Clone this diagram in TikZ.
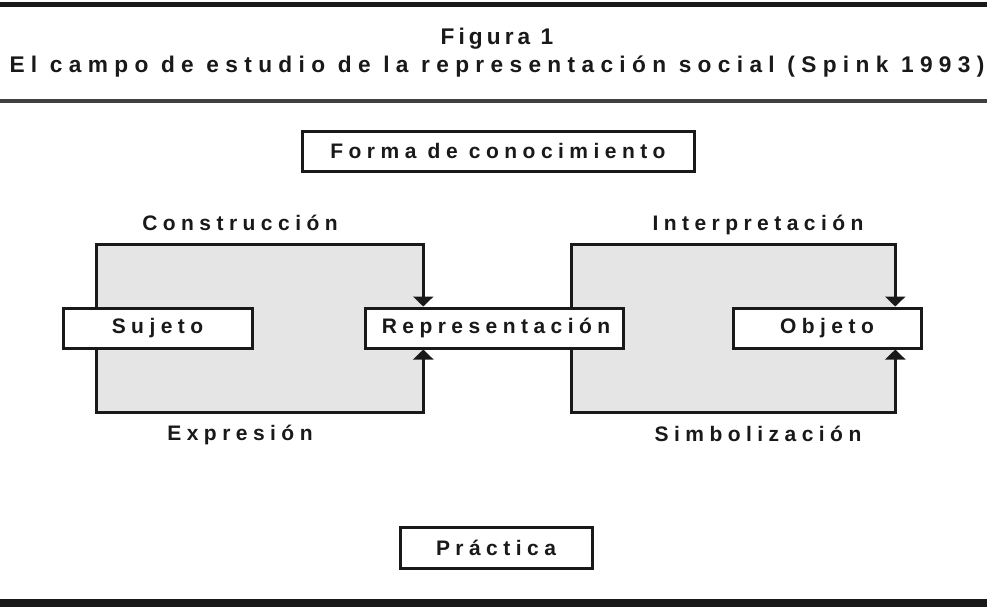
\documentclass[tikz,border=0pt]{standalone}
\usepackage{fontspec}
\setmainfont{Liberation Sans}[LetterSpace=26]
\newfontfamily\titlefont{Liberation Sans}[LetterSpace=28]
\newfontfamily\figfont{Liberation Sans}[LetterSpace=18]
\usetikzlibrary{arrows.meta,backgrounds}
\pgfdeclarelayer{paper}
\pgfsetlayers{paper,background,main}
\definecolor{panel}{RGB}{229,229,229}
\definecolor{ink}{RGB}{25,25,25}
\begin{document}
\begin{tikzpicture}[x=0.75pt,y=-0.75pt,
  txt/.style={font=\fontsize{15.75}{18}\selectfont\bfseries, text=ink, inner sep=0pt},
  lbl/.style={txt, anchor=base},
  ttl/.style={anchor=base, text=ink, inner sep=0pt},
  boxn/.style={txt, draw=ink, fill=white, line width=2.25pt, minimum height=30pt},
  panelbox/.style={fill=panel, draw=none, inner sep=0pt, minimum height=125.25pt},
  frame/.style={draw=ink, line width=2.25pt, line join=miter},
  tiptri/.style={{Triangle[width=15pt,length=7.5pt]}-{Triangle[width=15pt,length=7.5pt]}},
  rule/.style={draw=ink}
]
\useasboundingbox (0,0) rectangle (987,607);
\begin{pgfonlayer}{paper}
\fill[white] (0,0) rectangle (987,607);
\end{pgfonlayer}

% rules
\coordinate (t1) at (0,4.5);   \coordinate (t2) at (987,4.5);
\coordinate (m1) at (0,101);   \coordinate (m2) at (987,101);
\coordinate (b1) at (0,599);   \coordinate (b2) at (987,607);
\draw[rule, line width=3.75pt] (t1) -- (t2);
\draw[draw=black!75, line width=2.4pt] (m1) -- (m2);
\fill[ink] (b1) rectangle (b2);

% title
\node[ttl, font=\figfont\fontsize{17}{20}\selectfont\bfseries] (fig) at (497,44) {Figura 1};
\node[ttl, font=\titlefont\fontsize{17}{20}\selectfont\bfseries] (tit) at (497,72) {El campo de estudio de la representación social (Spink 1993)};

% boxes
\node[boxn, minimum width=294pt] (forma) at (498,151) {Forma de conocimiento};
\node[boxn, minimum width=141.75pt] (sujeto) at (157.5,328) {Sujeto};
\node[boxn, minimum width=193.5pt] (rep) at (494,328) {};
\node[txt, anchor=west] (repT) at ([xshift=13.5pt]rep.west) {Representación};
\node[boxn, minimum width=141pt] (objeto) at (827,328) {Objeto};
\node[boxn, minimum width=144pt, minimum height=30.75pt] (practica) at (496,547.5) {Práctica};

% labels
\node[lbl] (constr) at (240,230) {Construcción};
\node[lbl] (interp) at (758,230) {Interpretación};
\node[lbl] (expr) at (240,440) {Expresión};
\node[lbl] (simb) at (758,441) {Simbolización};

% panels and their arrows
\begin{scope}[on background layer]
  \node[panelbox, minimum width=244.5pt] (leftR) at (260,328.5) {};
  \node[panelbox, minimum width=242.25pt] (rightR) at (733.5,328.5) {};
  \draw[frame, tiptri] (rep.north -| leftR.east) -- (leftR.north east) -- (leftR.north west)
     -- (leftR.south west) -- (leftR.south east) -- (rep.south -| leftR.east);
  \draw[frame, tiptri] (objeto.north -| rightR.east) -- (rightR.north east) -- (rightR.north west)
     -- (rightR.south west) -- (rightR.south east) -- (objeto.south -| rightR.east);
\end{scope}
\end{tikzpicture}
\end{document}
